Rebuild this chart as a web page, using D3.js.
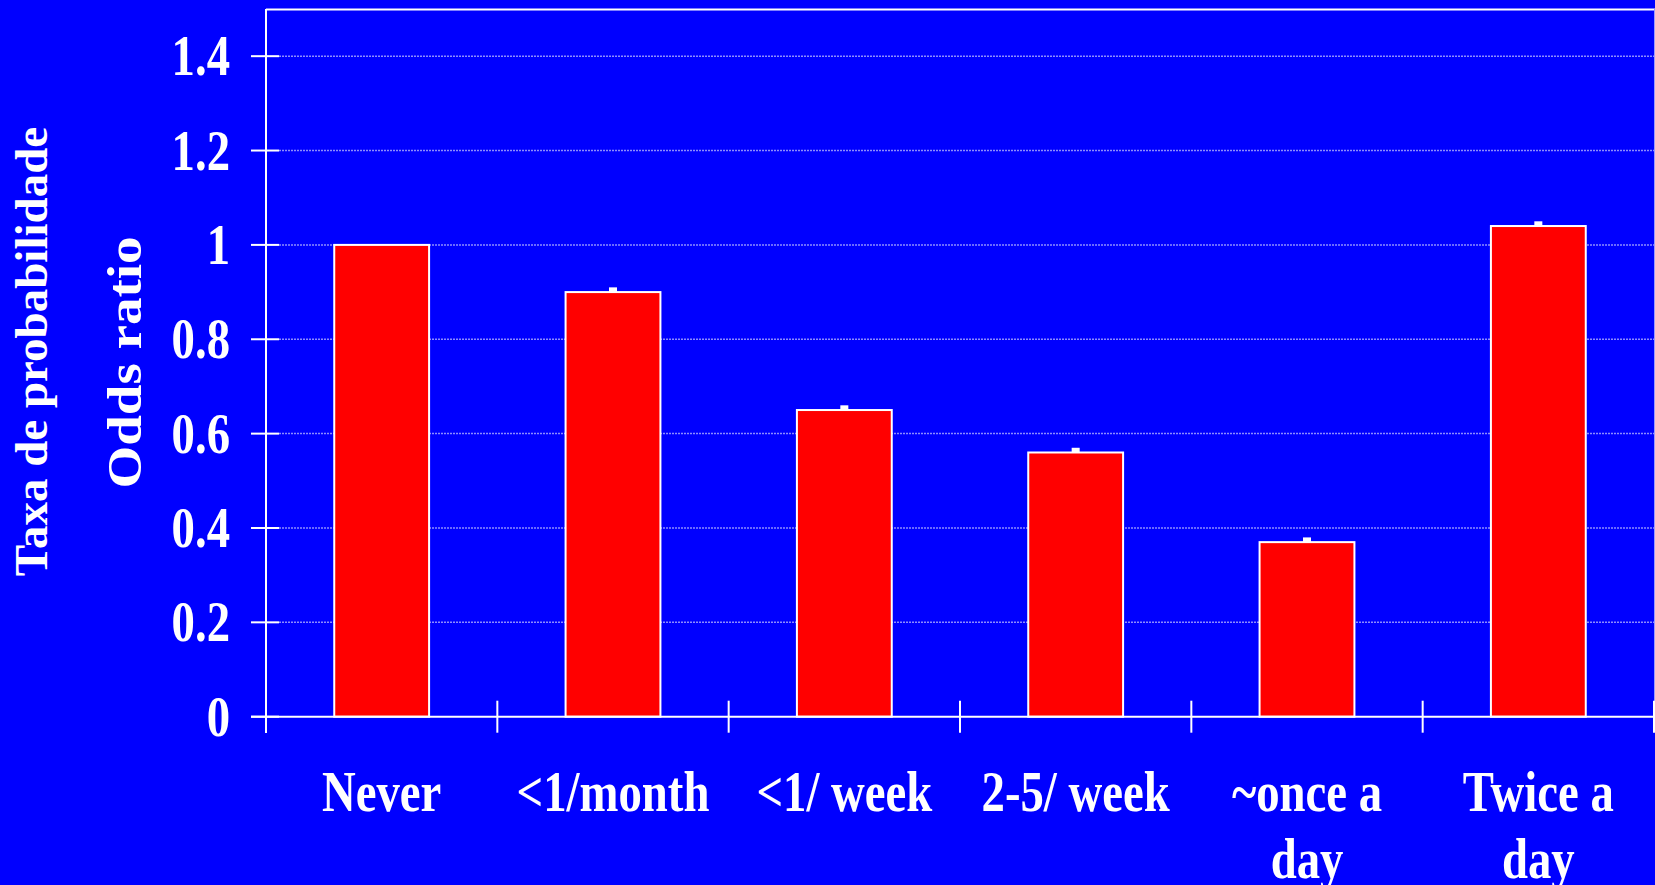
<!DOCTYPE html>
<html>
<head>
<meta charset="utf-8">
<script src="https://cdn.jsdelivr.net/npm/d3@7/dist/d3.min.js"></script>
<style>
  html, body { margin: 0; padding: 0; background: #0000ff; }
  svg { display: block; }
  text { font-family: "Liberation Serif", "Times New Roman", serif; font-weight: bold; fill: #ffffff; }
</style>
</head>
<body>
<svg id="chart" width="1655" height="885"></svg>
<script>
// Frequency categories (each label may wrap onto two lines)
const categories = ["Never", "<1/month", "<1/ week", "2-5/ week", "~once a day", "Twice a day"];
const categoryLines = [["Never"], ["<1/month"], ["<1/ week"], ["2-5/ week"], ["~once a", "day"], ["Twice a", "day"]];
// Odds ratio per category and the upper end of its error bar (reference group has none)
const oddsRatio = [1.0, 0.90, 0.65, 0.56, 0.37, 1.04];
const errorUpper = [null, 0.91, 0.66, 0.57, 0.38, 1.05];
// Y axis ticks
const yTicks = [0, 0.2, 0.4, 0.6, 0.8, 1, 1.2, 1.4];
const yTickLabels = ["0", "0.2", "0.4", "0.6", "0.8", "1", "1.2", "1.4"];

const W = 1655, H = 885;
const plotL = 266, plotR = 1654, plotT = 9, plotB = 716.7;

const svg = d3.select("#chart");
svg.append("rect").attr("width", W).attr("height", H).attr("fill", "#0000ff");

const x = d3.scaleBand().domain(categories).range([plotL, plotR]).paddingInner(0).paddingOuter(0);
const y = d3.scaleLinear().domain([0, 1.5]).range([plotB, plotT]);

// Dotted horizontal gridlines
svg.append("g").selectAll("line").data(yTicks.filter(d => d > 0)).join("line")
  .attr("x1", plotL + 13).attr("x2", plotR)
  .attr("y1", d => y(d)).attr("y2", d => y(d))
  .attr("stroke", "#8c8cff").attr("stroke-width", 1.5).attr("stroke-dasharray", "2,1");

// Plot frame: top and right edges
svg.append("line").attr("x1", plotL).attr("x2", W).attr("y1", plotT + 0.5).attr("y2", plotT + 0.5)
  .attr("stroke", "#ffffff").attr("stroke-width", 2);
svg.append("line").attr("x1", plotR + 0.5).attr("x2", plotR + 0.5).attr("y1", plotT).attr("y2", plotB)
  .attr("stroke", "#9a9aff").attr("stroke-width", 1);

// Bars
const barW = x.bandwidth() * 0.41;
const cx = d => x(d) + x.bandwidth() / 2;
svg.append("g").selectAll("rect").data(categories).join("rect")
  .attr("x", d => cx(d) - barW / 2)
  .attr("width", barW)
  .attr("y", (d, i) => y(oddsRatio[i]))
  .attr("height", (d, i) => y(0) - y(oddsRatio[i]))
  .attr("fill", "#ff0000")
  .attr("stroke", "#ffffff").attr("stroke-width", 2);

// Error bar caps
const withErr = categories.map((d, i) => i).filter(i => errorUpper[i] != null);
svg.append("g").selectAll("rect").data(withErr).join("rect")
  .attr("x", i => cx(categories[i]) - 4)
  .attr("width", 8)
  .attr("y", i => y(errorUpper[i]))
  .attr("height", i => y(oddsRatio[i]) - y(errorUpper[i]))
  .attr("fill", "#ffffff");

// Y axis line and ticks
svg.append("line").attr("x1", plotL).attr("x2", plotL).attr("y1", plotT).attr("y2", 733)
  .attr("stroke", "#ffffff").attr("stroke-width", 2);
svg.append("g").selectAll("line").data(yTicks).join("line")
  .attr("x1", plotL - 15).attr("x2", plotL + 13)
  .attr("y1", d => y(d)).attr("y2", d => y(d))
  .attr("stroke", "#ffffff").attr("stroke-width", 2);

// X axis line and category boundary ticks
svg.append("line").attr("x1", plotL - 15).attr("x2", W).attr("y1", plotB).attr("y2", plotB)
  .attr("stroke", "#ffffff").attr("stroke-width", 2);
const boundaries = categories.map(d => x(d)).concat([plotR]);
svg.append("g").selectAll("line").data(boundaries.slice(1)).join("line")
  .attr("x1", d => d).attr("x2", d => d)
  .attr("y1", plotB - 16).attr("y2", plotB + 16)
  .attr("stroke", "#ffffff").attr("stroke-width", 2);

// Y tick labels
svg.append("g").selectAll("text").data(yTicks).join("text")
  .attr("transform", d => `translate(${plotL - 36},${y(d) + 19}) scale(0.82,1)`)
  .attr("text-anchor", "end")
  .attr("font-size", 57)
  .text((d, i) => yTickLabels[i]);

// Category labels
const xl = svg.append("g").selectAll("g").data(categories).join("g");
xl.each(function (d, i) {
  d3.select(this).selectAll("text").data(categoryLines[i]).join("text")
    .attr("transform", (t, j) => `translate(${cx(d)},${811 + j * 67}) scale(0.82,1)`)
    .attr("text-anchor", "middle")
    .attr("font-size", 57)
    .text(t => t);
});

// Axis titles
svg.append("text")
  .attr("transform", "translate(47,351.5) rotate(-90)")
  .attr("text-anchor", "middle")
  .attr("font-size", 47)
  .text("Taxa de probabilidade");
svg.append("text")
  .attr("transform", "translate(141,362.5) scale(0.87,1) rotate(-90)")
  .attr("text-anchor", "middle")
  .attr("font-size", 55)
  .text("Odds ratio");
</script>
</body>
</html>
